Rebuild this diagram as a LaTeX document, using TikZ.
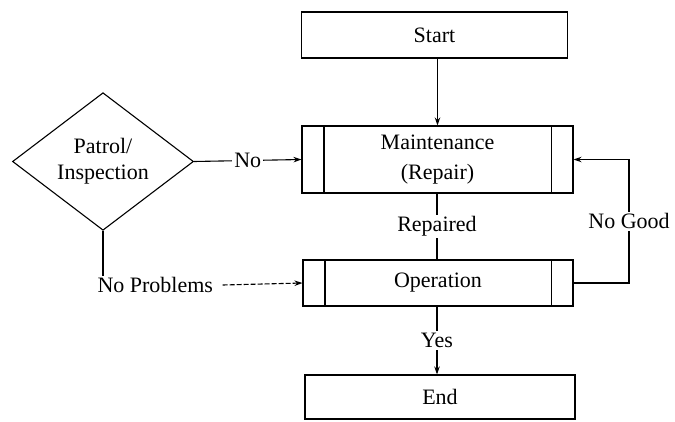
\documentclass[tikz,border=0pt]{standalone}
\usepackage{fontspec}
\setmainfont{Liberation Serif}
\usetikzlibrary{shapes.geometric,arrows.meta,positioning}
\begin{document}
\begin{tikzpicture}[x=1pt,y=-1pt,
  font=\fontsize{22}{26}\selectfont,
  line width=1.1pt,
  box/.style={draw,rectangle,inner sep=0pt,minimum width=270pt,minimum height=46pt},
  decision/.style={draw,diamond,inner sep=0pt,minimum width=181pt,minimum height=133pt,align=center},
  lbl/.style={fill=white,inner sep=2pt},
  arr/.style={-{Stealth[length=8pt,width=5.5pt]}},
  brk/.style={dash pattern=on 5pt off 2pt}]
\useasboundingbox (0,0) rectangle (675,421);

% process boxes
\node[box,minimum width=266pt] (start) at (434.5,35) {Start};
\node[box,minimum width=271pt,minimum height=67pt,align=center] (maint) at (437.5,159.5) {Maintenance\\[4pt](Repair)};
\node[box] (op) at (438,283) {Operation};
\node[box,minimum height=44pt] (end) at (440,397) {End};

% inner bars of the predefined-process boxes
\foreach \b in {maint,op}{
  \draw ([xshift=22.5pt]\b.north west) -- ([xshift=22.5pt]\b.south west);
  \draw ([xshift=-22pt]\b.north east) -- ([xshift=-22pt]\b.south east);
}

% inspection decision
\node[decision] (insp) at (103,161.5) {Patrol/\\Inspection};
\node[anchor=west,inner sep=1pt] (nop) at (96,285) {No Problems};

% connectors
\draw[arr] (start.south -| maint.north) -- (maint.north);
\draw[arr] (insp.east) -- node[lbl]{No} (maint.west);
\draw (insp.south) -- (insp.south |- nop.north);
\draw[arr,brk] (nop.east) ++(8pt,0) -- (op.west);
\draw (maint.south -| 437,0) -- node[lbl]{Repaired} (op.north -| 437,0);
\draw[arr] (op.south -| 437,0) -- node[lbl]{Yes} (end.north -| 437,0);
\coordinate (loop) at (629,283);
\draw[arr] (op.east) -- (loop) -- node[lbl]{No Good} (loop |- maint.east) -- (maint.east);
\end{tikzpicture}
\end{document}
